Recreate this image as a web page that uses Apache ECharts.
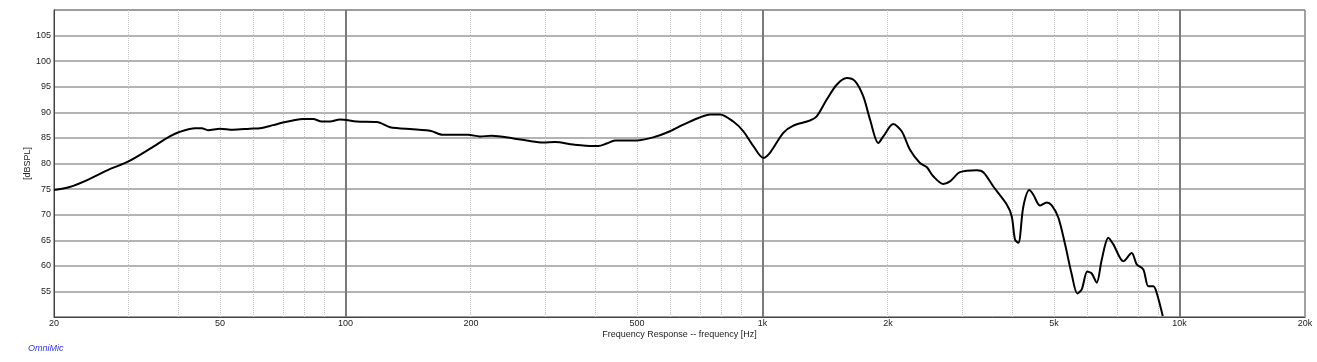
<!DOCTYPE html>
<html>
<head>
<meta charset="utf-8">
<script src="https://cdn.jsdelivr.net/npm/echarts@6/dist/echarts.min.js"></script>
<style>
html,body{margin:0;padding:0;background:#fff;}
#chart{width:1317px;height:362px;}
</style>
</head>
<body>
<div id="chart"></div>
<script>
// Frequency response data (Hz, dB SPL)
const freqHz = [20, 21.8, 24.1, 27.2, 30.0, 34.0, 37.9, 40.1, 43.6, 45.2, 46.8, 50.0, 53.7, 59.0, 62.4, 67.1, 70.8, 74.8, 79.1, 83.6, 87.7, 91.8, 97.0,
  106.4, 118.8, 127.9, 133.9, 159.5, 171.6, 197, 210, 224, 253, 272, 298, 318, 352, 393, 404, 423, 443, 499, 547, 600, 646, 702, 749, 791, 851, 900, 951,
  1005, 1042, 1122, 1186, 1300, 1349, 1426, 1507, 1592, 1667, 1745, 1811, 1896, 1949, 2059, 2157, 2258, 2386, 2476, 2568, 2714, 2816, 2976, 3264, 3386,
  3578, 3853, 3960, 4034, 4108, 4223, 4364, 4462, 4630, 4805, 4940, 5124, 5317, 5517, 5689, 5829, 6012, 6160, 6332, 6510, 6752, 6941, 7336, 7681, 7897,
  8191, 8420, 8656, 8820, 9118];
const splDb = [74.8, 75.4, 76.8, 78.9, 80.3, 82.9, 85.3, 86.2, 86.9, 86.9, 86.5, 86.8, 86.6, 86.8, 86.9, 87.5, 88.0, 88.4, 88.7, 88.7, 88.2, 88.2, 88.6,
  88.2, 88.1, 87.1, 86.9, 86.4, 85.6, 85.6, 85.3, 85.4, 84.9, 84.5, 84.1, 84.2, 83.7, 83.4, 83.4, 83.9, 84.5, 84.5, 85.1, 86.3, 87.6, 88.9, 89.6, 89.6, 88.2, 86.3, 83.4,
  81.1, 82.1, 86.0, 87.4, 88.4, 89.2, 92.5, 95.4, 96.7, 96.1, 93.1, 88.6, 84.0, 85.3, 87.7, 86.3, 82.7, 80.1, 79.3, 77.5, 76.0, 76.5, 78.3, 78.7, 78.3,
  75.5, 72.0, 69.7, 65.1, 64.5, 71.6, 74.8, 73.9, 71.8, 72.4, 71.8, 69.4, 64.2, 58.3, 54.6, 55.4, 58.9, 58.5, 56.7, 61.2, 65.5, 64.2, 60.9, 62.5, 60.3,
  59.3, 56.0, 56.0, 54.7, 50.2];

// Axis ticks / grid
const xTickFreqs = [20, 50, 100, 200, 500, 1000, 2000, 5000, 10000, 20000];
const xTickLabels = ['20', '50', '100', '200', '500', '1k', '2k', '5k', '10k', '20k'];
const minorGridFreqs = [30, 40, 50, 60, 70, 80, 90, 200, 300, 400, 500, 600, 700, 800, 900, 2000, 3000, 4000, 5000, 6000, 7000, 8000, 9000];
const majorGridFreqs = [100, 1000, 10000];
const yMin = 50, yMax = 110, yStep = 5;

const lg = v => Math.log10(v);
const seriesData = freqHz.map((f, i) => [lg(f), splDb[i]]);
const labelMap = {};
xTickFreqs.forEach((f, i) => { labelMap[lg(f).toFixed(6)] = xTickLabels[i]; });

const chart = echarts.init(document.getElementById('chart'), null, {renderer: 'canvas'});
const font = 'Liberation Sans, Arial, sans-serif';

chart.setOption({
  animation: false,
  backgroundColor: '#fff',
  grid: {left: 54, right: 12, top: 10, bottom: 45, show: true, borderColor: '#444', borderWidth: 1, containLabel: false, outerBoundsMode: 'none'},
  xAxis: {
    type: 'value', min: lg(20), max: lg(20000),
    name: 'Frequency Response -- frequency [Hz]', nameLocation: 'middle', nameGap: 13, nameMoveOverlap: false,
    nameTextStyle: {fontFamily: font, fontSize: 9, color: '#222'},
    axisLine: {show: true, lineStyle: {color: '#444', width: 1}},
    axisTick: {show: false},
    splitLine: {show: false},
    axisLabel: {
      customValues: xTickFreqs.map(lg),
      formatter: v => labelMap[Number(v).toFixed(6)] || '',
      fontFamily: font, fontSize: 9, color: '#222', margin: 2, hideOverlap: false,
      showMinLabel: true, showMaxLabel: true
    }
  },
  yAxis: {
    type: 'value', min: yMin, max: yMax, interval: yStep,
    name: '[dBSPL]', nameLocation: 'middle', nameRotate: 90, nameGap: 22, nameMoveOverlap: false,
    nameTextStyle: {fontFamily: font, fontSize: 9, color: '#222'},
    axisLine: {show: true, lineStyle: {color: '#444', width: 1}},
    axisTick: {show: false},
    splitLine: {show: true, lineStyle: {color: '#9a9a9a', width: 1.5}},
    axisLabel: {
      formatter: v => (v === yMin || v === yMax) ? '' : String(v),
      fontFamily: font, fontSize: 9, color: '#222', margin: 3
    }
  },
  series: [
    {
      type: 'line', data: [], silent: true,
      markLine: {
        silent: true, symbol: 'none', label: {show: false}, animation: false,
        lineStyle: {color: '#c4c4c4', type: [1, 1], width: 1},
        data: minorGridFreqs.map(f => ({xAxis: lg(f)}))
      }
    },
    {
      type: 'line', data: [], silent: true,
      markLine: {
        silent: true, symbol: 'none', label: {show: false}, animation: false,
        lineStyle: {color: '#7a7a7a', type: 'solid', width: 2},
        data: majorGridFreqs.map(f => ({xAxis: lg(f)}))
      }
    },
    {
      type: 'line', data: seriesData, showSymbol: false, smooth: 0.3,
      clip: true, lineStyle: {color: '#000', width: 2}, z: 5
    }
  ],
  graphic: [
    {type: 'text', left: 28, top: 344, style: {text: 'OmniMic', fill: '#3333ee', font: 'italic 9px Liberation Sans, Arial, sans-serif'}}
  ]
});
</script>
</body>
</html>
